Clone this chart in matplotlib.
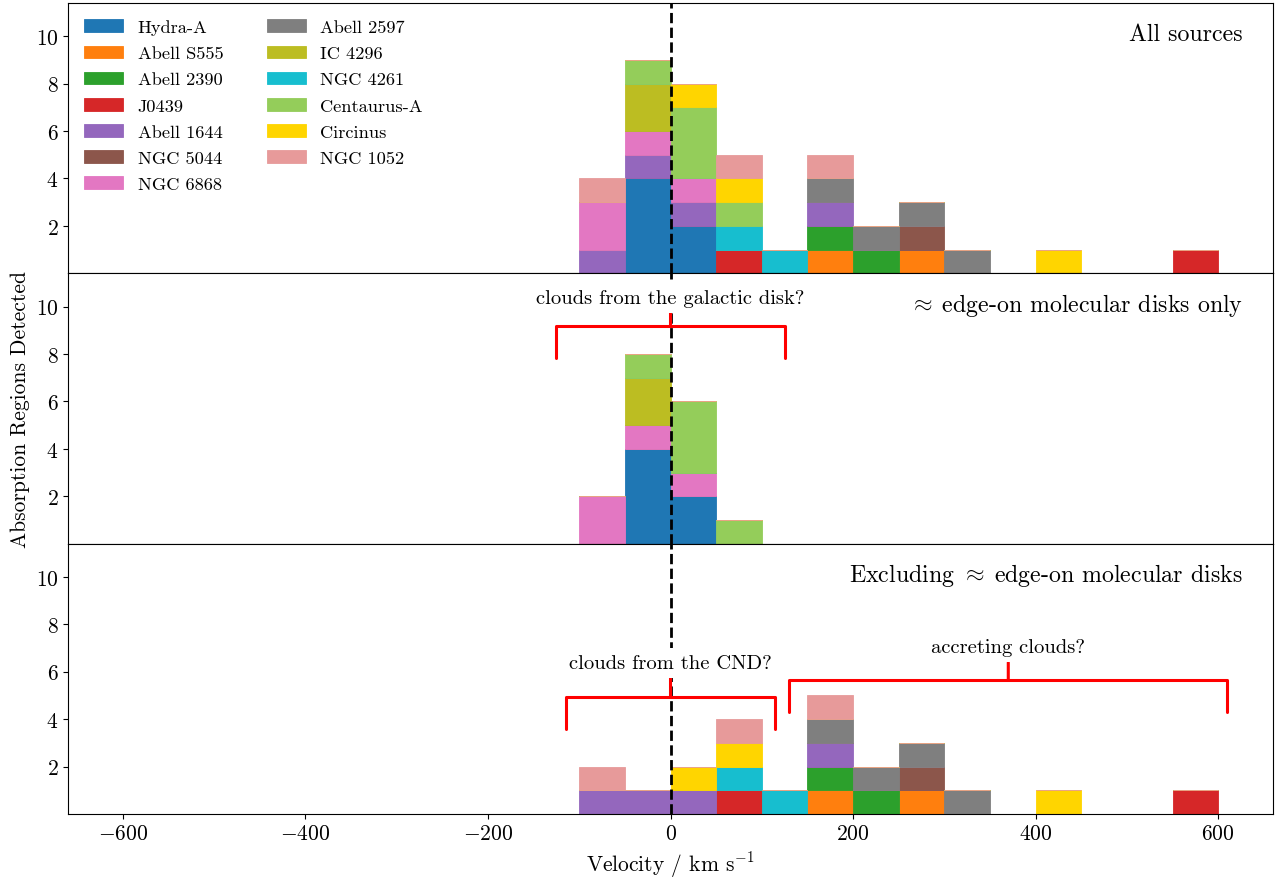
import numpy as np
import matplotlib.pyplot as plt

plt.rcParams['font.family'] = ['cmr10', 'DejaVu Serif']
plt.rcParams['mathtext.fontset'] = 'cm'
plt.rcParams['axes.formatter.use_mathtext'] = True
plt.rcParams['axes.unicode_minus'] = True

# sources, in stacking order
sources = ['Hydra-A', 'Abell S555', 'Abell 2390', 'J0439', 'Abell 1644',
           'NGC 5044', 'NGC 6868', 'Abell 2597', 'IC 4296', 'NGC 4261',
           'Centaurus-A', 'Circinus', 'NGC 1052']
colours = ['tab:blue', 'tab:orange', 'tab:green', 'tab:red', 'tab:purple',
           'tab:brown', 'tab:pink', 'tab:gray', 'tab:olive', 'tab:cyan',
           '#94cd5a', '#ffd500', '#e79a9a']
edge_on = [True, False, False, False, False,
           False, True, False, True, False,
           True, False, False]

# absorption region velocities (km/s), one list per source
v_hydra = [-25, -25, -25, -25, 25, 25]
v_s555 = [175, 275]
v_a2390 = [175, 225]
v_j0439 = [75, 575]
v_a1644 = [-75, -25, 25, 175]
v_n5044 = [275]
v_n6868 = [-75, -75, -25, 25]
v_a2597 = [175, 225, 275, 325]
v_ic4296 = [-25, -25]
v_n4261 = [75, 125]
v_cena = [-25, 25, 25, 25, 75]
v_circinus = [25, 75, 425]
v_n1052 = [-75, 75, 175]

velocities = [v_hydra, v_s555, v_a2390, v_j0439, v_a1644, v_n5044, v_n6868,
              v_a2597, v_ic4296, v_n4261, v_cena, v_circinus, v_n1052]

bins = np.arange(-600, 650, 50)

panel_titles = ['All sources', r'$\approx\;$edge-on molecular disks only',
                r'Excluding $\approx\;$edge-on molecular disks']
panel_data = [
    velocities,
    [v if e else [] for v, e in zip(velocities, edge_on)],
    [[] if e else v for v, e in zip(velocities, edge_on)],
]

fig, axes = plt.subplots(3, 1, figsize=(12.78, 8.79), dpi=100, sharex=True, sharey=True)
fig.subplots_adjust(left=0.0532, right=0.9961, top=0.9955, bottom=0.0728, hspace=0)

for ax, data, title in zip(axes, panel_data, panel_titles):
    n, b, containers = ax.hist(data, bins=bins, stacked=True, color=colours, label=sources)
    for cont, c in zip(containers, colours):
        for p in cont:
            p.set_edgecolor(c)
            p.set_linewidth(0.6)
    ax.axvline(0, color='black', ls='--', lw=2)
    ax.text(0.975, 0.885, title, transform=ax.transAxes, ha='right', va='center', fontsize=17.2)
    ax.tick_params(labelsize=15.5)

axes[0].set_ylim(0, 11.4)
axes[0].set_yticks([2, 4, 6, 8, 10])
axes[2].set_xticks(np.arange(-600, 601, 200))
axes[0].set_xlim(-660, 660)
for ax in axes[:2]:
    ax.tick_params(bottom=False, labelbottom=False)

axes[0].legend(loc='upper left', ncol=2, frameon=False, fontsize=13.2, handlelength=2.1,
               labelspacing=0.56, columnspacing=2.4)
axes[1].set_ylabel('Absorption Regions Detected', fontsize=15.5)
axes[2].set_xlabel(r'Velocity / km s$^{-1}$', fontsize=15.5)


def bracket(ax, text, x0, x1, y_br, y_txt):
    ms = 20
    px = ax.transData.transform([(x0, 0), (x1, 0)])
    half = (px[1, 0] - px[0, 0]) / 2
    scale = ms * fig.dpi / 72
    ax.annotate(text, xy=((x0 + x1) / 2, y_br), xytext=((x0 + x1) / 2, y_txt),
                ha='center', va='center', fontsize=14.8,
                bbox=dict(boxstyle='square,pad=0.3', fc='white', ec='none'),
                arrowprops=dict(arrowstyle=f'-[, widthB={half / scale:.3f}, lengthB={32 / scale:.3f}',
                                color='red', lw=2.2, shrinkA=0, shrinkB=0, mutation_scale=ms))


bracket(axes[1], 'clouds from the galactic disk?', -125, 125, 9.18, 10.36)
bracket(axes[2], 'clouds from the CND?', -115, 115, 4.93, 6.36)
bracket(axes[2], 'accreting clouds?', 130, 610, 5.64, 7.03)

fig.savefig('out.png', dpi=100)
